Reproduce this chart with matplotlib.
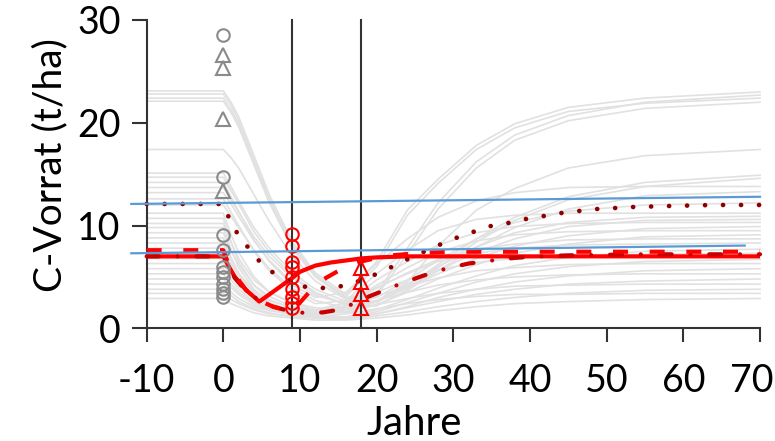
import matplotlib
matplotlib.use("Agg")
import matplotlib.pyplot as plt

# ---------------- data ----------------
xticks = [-10, 0, 10, 20, 30, 40, 50, 60, 70]
yticks = [0, 10, 20, 30]

gray_x = [-10, 0, 1, 2, 4, 6, 9, 12, 16, 20, 24, 28, 33, 38, 45, 55, 70]
gray_lines = [
    [23.1, 23.1, 22.0, 20.6, 16.8, 13.0, 8.4, 5.4, 3.3, 6.5, 11.5, 14.5, 17.8, 19.9, 21.5, 22.4, 23.0],
    [22.4, 22.4, 21.3, 19.9, 16.2, 12.5, 8.0, 5.1, 3.1, 6.0, 11.0, 14.1, 17.4, 19.5, 21.1, 21.9, 22.4],
    [22.8, 22.8, 21.7, 20.2, 16.4, 12.6, 8.1, 5.2, 3.0, 3.4, 7.8, 12.2, 16.2, 18.8, 20.7, 22.0, 22.7],
    [22.1, 22.1, 21.0, 19.6, 15.9, 12.2, 7.8, 5.0, 2.9, 3.2, 7.2, 11.6, 15.6, 18.3, 20.2, 21.4, 22.0],
    [17.4, 17.4, 16.6, 15.6, 13.0, 10.4, 7.0, 4.6, 2.8, 2.6, 4.5, 8.0, 11.5, 13.6, 15.6, 16.8, 17.4],
    [15.1, 15.1, 13.8, 12.4, 9.8, 7.8, 5.4, 3.8, 2.6, 2.5, 4.1, 6.2, 8.7, 10.8, 12.8, 14.2, 14.9],
    [14.7, 14.7, 13.4, 12.1, 9.4, 7.4, 5.1, 3.5, 2.3, 2.2, 3.7, 5.9, 8.4, 10.5, 12.5, 13.8, 14.6],
    [14.2, 14.2, 12.8, 11.4, 8.6, 6.5, 4.2, 3.0, 3.5, 6.3, 8.7, 10.8, 12.4, 13.2, 13.7, 13.8, 13.8],
    [13.7, 13.7, 12.5, 11.3, 8.9, 7.0, 4.9, 3.4, 2.3, 2.2, 3.7, 5.6, 7.9, 9.8, 11.6, 12.9, 13.3],
    [13.2, 13.2, 12.1, 10.9, 8.5, 6.6, 4.5, 3.2, 2.4, 3.0, 4.7, 6.6, 8.7, 10.3, 11.4, 12.0, 12.2],
    [12.6, 12.6, 11.3, 10.0, 7.5, 5.6, 3.6, 2.4, 2.7, 5.3, 7.6, 9.5, 10.6, 11.0, 11.2, 11.2, 11.2],
    [12.0, 12.0, 10.9, 9.8, 7.6, 5.8, 3.9, 2.7, 2.0, 2.7, 4.3, 6.0, 7.9, 9.3, 10.3, 10.8, 10.9],
    [11.2, 11.2, 9.1, 7.4, 5.0, 3.5, 2.4, 1.8, 1.6, 2.6, 4.0, 5.6, 7.4, 8.7, 9.9, 10.5, 10.6],
    [10.7, 10.7, 8.4, 6.5, 4.2, 2.8, 1.9, 1.6, 2.5, 4.7, 6.5, 8.1, 9.3, 9.9, 10.2, 10.3, 10.3],
    [10.2, 10.2, 8.4, 6.8, 4.7, 3.5, 2.5, 2.0, 1.8, 2.6, 3.9, 5.3, 6.8, 8.0, 9.0, 9.7, 9.9],
    [9.8, 9.8, 7.7, 5.9, 3.8, 2.5, 1.6, 1.4, 2.2, 4.2, 5.9, 7.4, 8.5, 9.1, 9.4, 9.5, 9.5],
    [9.3, 9.3, 7.6, 6.2, 4.2, 3.1, 2.1, 1.7, 1.5, 2.3, 3.5, 4.8, 6.2, 7.3, 8.2, 8.9, 9.1],
    [8.8, 8.8, 6.9, 5.4, 3.5, 2.4, 1.7, 1.5, 2.2, 3.9, 5.4, 6.7, 7.7, 8.2, 8.6, 8.7, 8.7],
    [8.3, 8.3, 6.7, 5.3, 3.7, 2.7, 2.0, 1.8, 2.5, 4.0, 5.3, 6.5, 7.3, 7.8, 8.1, 8.2, 8.3],
    [7.8, 7.8, 6.3, 5.1, 3.4, 2.4, 1.6, 1.2, 1.1, 1.8, 2.8, 3.9, 5.1, 6.1, 6.9, 7.5, 7.7],
    [7.3, 7.3, 5.9, 4.7, 3.2, 2.4, 1.8, 1.6, 2.2, 3.5, 4.7, 5.7, 6.4, 6.8, 7.1, 7.2, 7.3],
    [6.8, 6.8, 5.5, 4.5, 3.0, 2.2, 1.5, 1.1, 1.0, 1.6, 2.5, 3.4, 4.5, 5.3, 6.0, 6.5, 6.7],
    [6.3, 6.3, 5.1, 4.1, 2.9, 2.1, 1.6, 1.5, 2.0, 3.1, 4.1, 4.9, 5.6, 5.9, 6.2, 6.3, 6.3],
    [5.8, 5.8, 4.7, 3.8, 2.6, 1.9, 1.3, 1.0, 0.9, 1.4, 2.1, 3.0, 3.8, 4.5, 5.1, 5.6, 5.8],
    [5.3, 5.3, 4.3, 3.5, 2.5, 1.9, 1.5, 1.4, 1.8, 2.7, 3.5, 4.2, 4.7, 5.0, 5.2, 5.3, 5.3],
    [4.8, 4.8, 4.0, 3.3, 2.3, 1.8, 1.3, 1.1, 1.0, 1.4, 2.0, 2.6, 3.3, 3.8, 4.3, 4.6, 4.8],
    [4.3, 4.3, 3.5, 2.9, 2.1, 1.7, 1.4, 1.3, 1.6, 2.3, 2.9, 3.4, 3.8, 4.1, 4.2, 4.3, 4.3],
    [3.8, 3.8, 3.2, 2.6, 1.9, 1.5, 1.1, 1.0, 0.9, 1.2, 1.6, 2.1, 2.6, 3.0, 3.4, 3.7, 3.8],
    [3.4, 3.4, 2.8, 2.4, 1.8, 1.4, 1.2, 1.1, 1.4, 1.9, 2.4, 2.8, 3.1, 3.3, 3.3, 3.4, 3.4],
    [2.9, 2.9, 2.4, 2.1, 1.5, 1.2, 1.0, 0.8, 0.8, 1.0, 1.3, 1.7, 2.1, 2.4, 2.6, 2.8, 2.9],
]

solid_x = [-10, 0, 0.5, 1.5, 3, 4.7, 9, 10, 12, 14, 16, 18, 20, 24, 30, 70]
solid_y = [7.0, 7.0, 6.3, 5.0, 3.7, 2.6, 4.9, 5.5, 6.1, 6.4, 6.6, 6.8, 6.9, 7.0, 7.0, 7.0]

dashed_x = [-10, 0, 0.5, 1.5, 3, 4.7, 6.5, 8.3, 9, 10, 11.3, 12.9, 14.8, 16.5, 18, 20.3, 22, 26, 30, 70]
dashed_y = [7.6, 7.6, 6.6, 5.2, 3.7, 2.7, 2.1, 1.75, 1.7, 2.5, 3.6, 4.7, 5.5, 6.1, 6.5, 6.9, 7.1, 7.35, 7.45, 7.45]

dashdot_x = [-10, 0, 0.5, 1.5, 3, 4.7, 6.5, 8.5, 10.5, 13, 15, 17, 19, 21, 23, 26, 29, 32, 35, 38, 41, 45, 55, 70]
dashdot_y = [7.0, 7.0, 6.3, 4.9, 3.6, 2.7, 2.1, 1.7, 1.5, 1.55, 1.8, 2.4, 3.1, 3.7, 4.3, 5.1, 5.8, 6.3, 6.6, 6.85, 7.0, 7.1, 7.2, 7.2]

dotted_x = [-10, 0, 0.4, 1.4, 2.8, 4.2, 5.9, 7.9, 10.1, 12.5, 14.8, 17, 19.4, 21.5, 23.4, 25.7, 27.8, 30,
            32.3, 34.5, 36.9, 39.2, 41.6, 43.9, 46.2, 48.5, 51, 53.3, 55.7, 58, 64, 70]
dotted_y = [12.1, 12.1, 11.3, 9.7, 8.3, 6.9, 5.7, 4.8, 4.1, 3.9, 4.0, 4.4, 5.1, 5.8, 6.5, 7.3, 8.0, 8.7,
            9.3, 9.9, 10.2, 10.6, 10.9, 11.2, 11.4, 11.6, 11.7, 11.8, 11.85, 11.9, 12.0, 12.0]

blue1_x = [-12, 70]
blue1_y = [12.1, 12.8]
blue2_x = [-12, 68]
blue2_y = [7.3, 8.05]

vlines_x = [9, 18]

gray_circle_x = 0
gray_circles = [28.5, 14.7, 9.1, 7.6, 6.0, 5.5, 5.0, 4.3, 3.8, 3.4, 3.0]
gray_tri = [26.6, 25.3, 20.4, 13.4]
red_circle_x = 9
red_circles = [9.2, 8.0, 6.5, 6.0, 5.0, 3.8, 3.0, 2.5, 2.0]
red_tri_x = 18
red_tri = [5.9, 4.5, 3.3, 2.0]

# ---------------- plot ----------------
plt.rcParams['font.family'] = ['Lato', 'DejaVu Sans']
fig = plt.figure(figsize=(7.75, 4.41), dpi=100)
ax = fig.add_axes([131.3 / 775, 112.7 / 441, 636.4 / 775, 308.3 / 441])
ax.set_xlim(-12, 71)
ax.set_ylim(0, 30)

for vals in gray_lines:
    ax.plot(gray_x, vals, color='#e1e1e1', lw=1.2, zorder=1, solid_joinstyle='round')

for xv in vlines_x:
    ax.plot([xv, xv], [0, 30], color='#333333', lw=1.5, zorder=2, clip_on=False)

ax.plot(solid_x, solid_y, color='#ff0000', lw=3.0, zorder=3, solid_capstyle='butt')
l_dash, = ax.plot(dashed_x, dashed_y, color='#ff0000', lw=3.0, zorder=3.2)
l_dash.set_dashes([3.6, 5.2])
l_dd, = ax.plot(dashdot_x, dashdot_y, color='#c80000', lw=3.0, zorder=3.1,
                dash_capstyle='round')
l_dd.set_dashes([2.9, 4.5, 0.01, 4.5])
l_dot, = ax.plot(dotted_x, dotted_y, color='#8e0000', lw=3.4, zorder=3.3,
                 dash_capstyle='round')
l_dot.set_dashes([0.01, 3.8])

ax.plot([gray_circle_x] * len(gray_circles), gray_circles, linestyle='none', marker='o',
        ms=9, mfc='none', mec='#8a8a8a', mew=1.5, zorder=4, clip_on=False)
ax.plot([gray_circle_x] * len(gray_tri), gray_tri, linestyle='none', marker='^',
        ms=10, mfc='none', mec='#8a8a8a', mew=1.5, zorder=4, clip_on=False)
ax.plot([red_circle_x] * len(red_circles), red_circles, linestyle='none', marker='o',
        ms=9, mfc='none', mec='#ff0000', mew=1.5, zorder=4, clip_on=False)
ax.plot([red_tri_x] * len(red_tri), red_tri, linestyle='none', marker='^',
        ms=10, mfc='none', mec='#ff0000', mew=1.5, zorder=4, clip_on=False)

ax.plot(blue1_x, blue1_y, color='#5b9bd5', lw=1.6, zorder=5, clip_on=False)
ax.plot(blue2_x, blue2_y, color='#5b9bd5', lw=1.6, zorder=5, clip_on=False)

for s in ['top', 'right']:
    ax.spines[s].set_visible(False)
ax.spines['left'].set_position(('data', -10))
ax.spines['left'].set_bounds(0, 30)
ax.spines['bottom'].set_bounds(-10, 70)
for s in ['left', 'bottom']:
    ax.spines[s].set_linewidth(1.5)
    ax.spines[s].set_color('#333333')

xpad = 15
ax.set_xticks(xticks)
ax.set_yticks(yticks)
ax.set_xticklabels([str(v) for v in xticks[:-1]] + [''])
ax.set_yticklabels([str(v) for v in yticks])
ax.tick_params(axis='x', length=10, width=1.5, color='#333333', labelsize=27, pad=xpad)
ax.tick_params(axis='y', length=10.8, width=1.5, color='#333333', labelsize=27, pad=8)
# last x label sits slightly left of its tick in the reference
ax.annotate(str(xticks[-1]), xy=(xticks[-1], 0), xycoords=('data', 'axes fraction'),
            xytext=(-6, -(10 + xpad)), textcoords='offset points',
            ha='center', va='top', fontsize=27, annotation_clip=False)
ax.set_xlabel('Jahre', fontsize=29, labelpad=4)
ax.xaxis.label.set_x(0.444)
ax.set_ylabel('C-Vorrat (t/ha)', fontsize=28, labelpad=6)
ax.yaxis.label.set_y(0.53)

fig.savefig('out.png', dpi=100)
